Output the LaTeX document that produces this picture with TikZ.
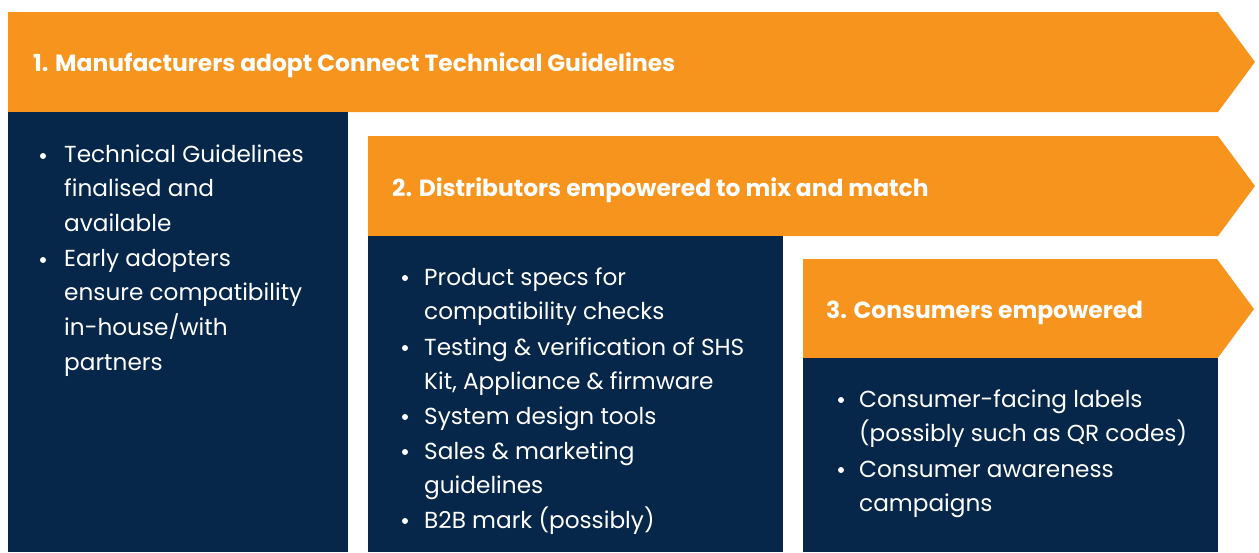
\documentclass[tikz,border=0pt]{standalone}
\usepackage{fontspec}
\setmainfont{Poppins}
\definecolor{brand}{HTML}{F7941E}
\definecolor{navy}{HTML}{06264A}
\tikzset{
  band/.style={fill=brand},
  panel/.style={fill=navy},
  head/.style={anchor=base west, inner sep=0pt, text=white,
    font=\bfseries\fontsize{23.4}{28}\selectfont},
  % placed at the baseline of the first line: the strut reaches 0.7 of the line pitch above it
  item/.style={anchor=north west, inner sep=0pt, text=white, align=left,
    yshift=24.29pt, font=\fontsize{23.2}{34.7}\selectfont},
  dot/.style={circle, fill=white, inner sep=0pt, minimum size=6pt},
}
\newcommand{\firstline}{\strut}
\begin{document}
\begin{tikzpicture}[x=1pt,y=-1pt]
\useasboundingbox (0,0) rectangle (1259,552);
% stage 1
\fill[band] (8,12) -- (1218,12) -- (1255,62) -- (1218,112) -- (8,112) -- cycle;
\fill[panel] (8,112) rectangle (348,552);
% stage 2
\fill[band] (368,136) -- (1218,136) -- (1255,186) -- (1218,236) -- (368,236) -- cycle;
\fill[panel] (368,236) rectangle (783,552);
% stage 3
\fill[band] (803,259) -- (1217,259) -- (1254,309) -- (1217,359) -- (803,359) -- cycle;
\fill[panel] (803,358) rectangle (1218,552);

% headings
\node[head] (h1) at (33,71) {1. Manufacturers adopt Connect Technical Guidelines};
\node[head] (h2) at (392,196) {2. Distributors empowered to mix and match};
\node[head] (h3) at (826,318) {3. Consumers empowered};

% stage 1 items
\node[item] (a1) at (64,162) {\firstline Technical Guidelines\\finalised and\\available};
\node[item] (a2) at (64,266) {\firstline Early adopters\\ensure compatibility\\in-house/with\\partners};
\node[dot] at (43,156) {};
\node[dot] at (43,260) {};

% stage 2 items
\node[item] (b1) at (424,285) {\firstline Product specs for\\compatibility checks};
\node[item] (b2) at (424,355) {\firstline Testing \& verification of SHS\\Kit, Appliance \& firmware};
\node[item] (b3) at (424,424) {\firstline System design tools};
\node[item] (b4) at (424,459) {\firstline Sales \& marketing\\guidelines};
\node[item] (b5) at (424,528) {\firstline B2B mark (possibly)};
\foreach \y in {278,348,417,452,521} \node[dot] at (405,\y) {};

% stage 3 items
\node[item] (c1) at (859,407) {\firstline Consumer-facing labels\\(possibly such as QR codes)};
\node[item] (c2) at (859,477) {\firstline Consumer awareness\\campaigns};
\foreach \y in {400,470} \node[dot] at (841,\y) {};
\end{tikzpicture}
\end{document}
